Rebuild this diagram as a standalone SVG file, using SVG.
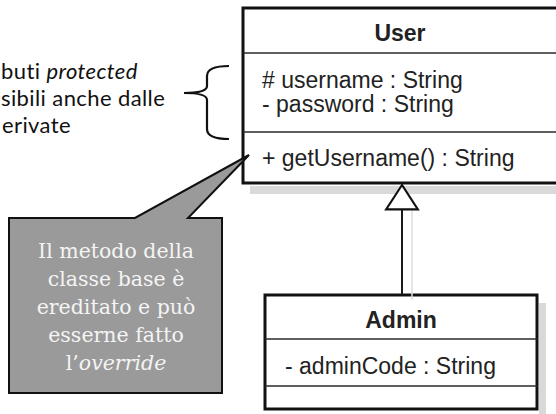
<svg xmlns="http://www.w3.org/2000/svg" width="556" height="414" viewBox="0 0 556 414">
  <style>
    .box { fill: #ffffff; stroke: #111111; stroke-width: 3; }
    .div { stroke: #2a2a2a; stroke-width: 1.6; }
    .shadow { fill: #d9d9d9; }
    .uml { font-family: "Liberation Sans", Arial, sans-serif; font-size: 23px; fill: #222222; }
    .title { font-weight: bold; text-anchor: middle; }
    .note-text { font-family: "DejaVu Serif", "Liberation Serif", serif; font-size: 20.5px; fill: #f4f4f4; text-anchor: middle; }
    .side { font-family: Lato, "Liberation Sans", sans-serif; font-size: 22px; letter-spacing: 0.4px; font-variant-ligatures: none; fill: #111111; }
    .conn { stroke: #1a1a1a; stroke-width: 2; fill: none; }
  </style>
  <defs>
    <marker id="generalization" markerUnits="userSpaceOnUse" markerWidth="34" markerHeight="36"
            viewBox="-26 -17 28 34" refX="0" refY="0" orient="auto">
      <path d="M0,0 L-23,-15 L-23,15 Z" fill="#ffffff" stroke="#111111" stroke-width="2" stroke-linejoin="miter"/>
    </marker>
  </defs>

  <rect width="556" height="414" fill="#ffffff"/>

  <!-- side label with curly brace -->
  <g id="protected-label">
    <text class="side" x="1" y="79">buti <tspan font-style="italic">protected</tspan></text>
    <text class="side" x="1" y="106">sibili anche dalle</text>
    <text class="side" x="2" y="133">erivate</text>
    <path d="M229,66 Q207,66 207,76 L207,86 Q207,93 184,93 Q207,93 207,100 L207,129 Q207,139 229,139"
          fill="none" stroke="#111111" stroke-width="2.2"/>
  </g>

  <!-- class User -->
  <g id="user">
    <rect class="shadow" x="250" y="186" width="306" height="8"/>
    <rect class="box" x="243" y="8" width="316" height="175"/>
    <line class="div" x1="243" y1="53" x2="556" y2="53"/>
    <line class="div" x1="243" y1="132" x2="556" y2="132"/>
    <text class="uml title" x="400" y="41">User</text>
    <text class="uml" x="262" y="88"># username : String</text>
    <text class="uml" x="262" y="112">- password : String</text>
    <text class="uml" x="262" y="166">+ getUsername() : String</text>
  </g>

  <!-- class Admin -->
  <g id="admin">
    <rect class="shadow" x="539" y="303" width="7" height="111"/>
    <rect class="box" x="265" y="295" width="272" height="114"/>
    <line class="div" x1="265" y1="339" x2="537" y2="339"/>
    <line class="div" x1="265" y1="386" x2="537" y2="386"/>
    <text class="uml title" x="401" y="328">Admin</text>
    <text class="uml" x="285" y="374">- adminCode : String</text>
  </g>

  <!-- generalization Admin -> User -->
  <g id="connectors">
    <line x1="412" y1="209" x2="412" y2="300" stroke="#dddddd" stroke-width="1.5"/>
    <line class="conn" x1="402" y1="295" x2="402" y2="185" marker-end="url(#generalization)"/>
  </g>

  <!-- callout note -->
  <g id="note">
    <path d="M9,218 L135,218 L249,155 L188,218 L222,218 L222,393 L9,393 Z"
          fill="#9a9a9a" stroke="#111111" stroke-width="2" stroke-linejoin="miter"/>
    <text class="note-text" x="116" y="258">Il metodo della</text>
    <text class="note-text" x="116" y="286">classe base è</text>
    <text class="note-text" x="116" y="314">ereditato e può</text>
    <text class="note-text" x="116" y="342">esserne fatto</text>
    <text class="note-text" x="116" y="370">l’<tspan font-style="italic">override</tspan></text>
  </g>
</svg>
